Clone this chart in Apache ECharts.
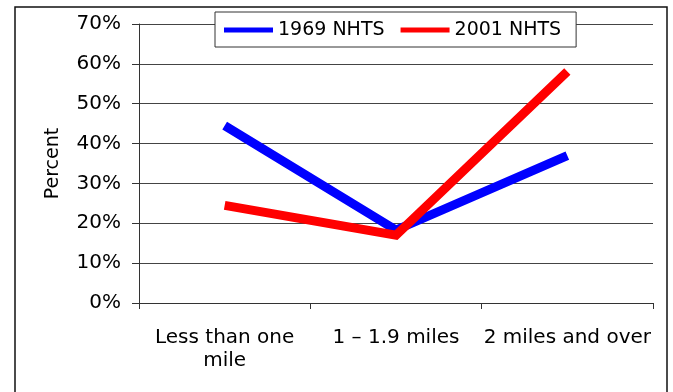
<!DOCTYPE html>
<html>
<head>
<meta charset="utf-8">
<script src="https://cdn.jsdelivr.net/npm/echarts@6/dist/echarts.min.js"></script>
<style>
  html, body { margin: 0; padding: 0; background: #fff; }
  #chart { width: 673px; height: 392px; }
</style>
</head>
<body>
<div id="chart"></div>
<script>
// Distance categories and share of school trips (%) for each survey year
var categories = ['Less than one\nmile', '1 \u2013 1.9 miles', '2 miles and over'];
var nhts1969 = [44.5, 18.3, 37.0];
var nhts2001 = [24.5, 17.0, 58.1];
var seriesNames = ['1969 NHTS', '2001 NHTS'];

var FONT = '"DejaVu Sans", "Liberation Sans", Arial, sans-serif';

var chart = echarts.init(document.getElementById('chart'), null, { renderer: 'canvas' });

function lineSeries(name, data, color) {
  return {
    name: name,
    type: 'line',
    data: data,
    symbol: 'none',
    lineStyle: { color: color, width: 9, cap: 'butt', join: 'miter' },
    itemStyle: { color: color },
    emphasis: { disabled: true },
    animation: false
  };
}

chart.setOption({
  animation: false,
  backgroundColor: '#fff',
  graphic: [{
    type: 'rect',
    shape: { x: 15, y: 7, width: 652, height: 400 },
    style: { fill: null, stroke: '#111', lineWidth: 1.5 },
    z: -1,
    silent: true
  }],
  grid: { left: 139, right: 20, top: 24, bottom: 89, containLabel: false },
  legend: {
    data: seriesNames,
    icon: 'rect',
    left: 215,
    top: 12,
    padding: [7, 15, 6, 9],
    itemGap: 16,
    itemWidth: 49,
    itemHeight: 5,
    backgroundColor: '#fff',
    borderColor: '#333',
    borderWidth: 1,
    borderRadius: 0,
    textStyle: { fontFamily: FONT, fontSize: 19, color: '#000', lineHeight: 22 },
    z: 10
  },
  xAxis: {
    type: 'category',
    data: categories,
    boundaryGap: true,
    axisLine: { show: true, lineStyle: { color: '#333', width: 1 } },
    axisTick: { show: true, length: 6, inside: false, lineStyle: { color: '#333' } },
    axisLabel: {
      fontFamily: FONT, fontSize: 20, color: '#000', margin: 23,
      lineHeight: 23, align: 'center', interval: 0
    },
    splitLine: { show: false }
  },
  yAxis: {
    type: 'value',
    min: 0,
    max: 70,
    interval: 10,
    name: 'Percent',
    nameLocation: 'middle',
    nameRotate: 90,
    nameGap: 76,
    nameTextStyle: { fontFamily: FONT, fontSize: 19, color: '#000' },
    axisLine: { show: true, lineStyle: { color: '#333', width: 1 } },
    axisTick: { show: true, length: 7, inside: false, lineStyle: { color: '#333' } },
    axisLabel: {
      fontFamily: FONT, fontSize: 20, color: '#000', margin: 18,
      padding: [7, 0, 0, 0],
      formatter: '{value}%'
    },
    splitLine: { show: true, lineStyle: { color: '#444', width: 1 } }
  },
  series: [
    lineSeries(seriesNames[0], nhts1969, '#0000ff'),
    lineSeries(seriesNames[1], nhts2001, '#ff0000')
  ]
});
</script>
</body>
</html>
